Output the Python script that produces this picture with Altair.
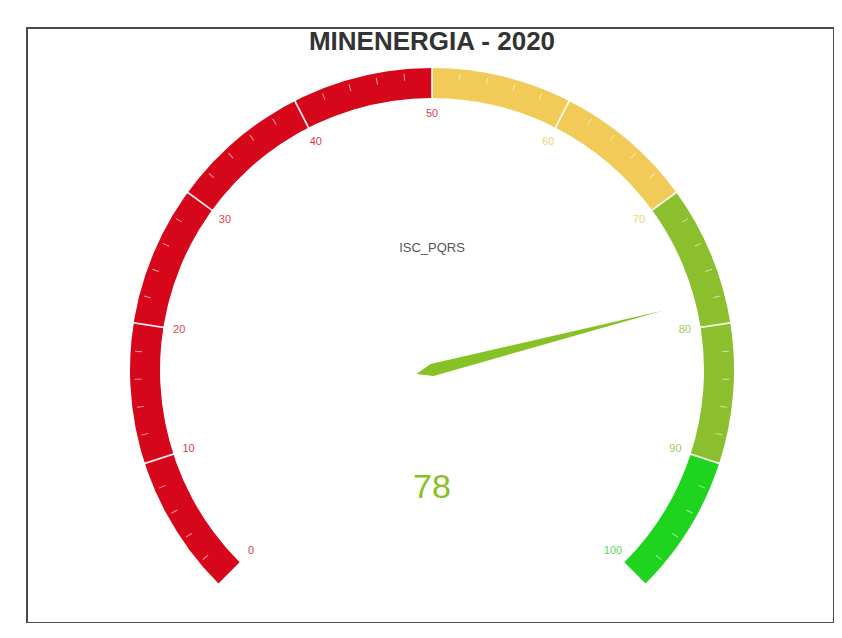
import altair as alt
import pandas as pd

# ---- data ----
title_text = "MINENERGIA - 2020"
series_name = "ISC_PQRS"
gauge_value = [78]
band_start = [0, 50, 70, 90]
band_end = [50, 70, 90, 100]
band_colors = ["#d6061b", "#f2ca57", "#8bbf2e", "#1fd41f"]
label_values = [0, 10, 20, 30, 40, 50, 60, 70, 80, 90, 100]
label_text = ["0", "10", "20", "30", "40", "50", "60", "70", "80", "90", "100"]
label_colors = ["#d6061b", "#d6061b", "#d6061b", "#d6061b", "#d6061b", "#d6061b",
                "#f2ca57", "#f2ca57", "#8bbf2e", "#8bbf2e", "#1fd41f"]
split_values = [10, 20, 30, 40, 50, 60, 70, 80, 90]
minor_values = [2, 4, 6, 8, 12, 14, 16, 18, 22, 24, 26, 28, 32, 34, 36, 38,
                42, 44, 46, 48, 52, 54, 56, 58, 62, 64, 66, 68, 72, 74, 76, 78,
                82, 84, 86, 88, 92, 94, 96, 98]
pointer_color = "#86c226"

# ---- layout ----
W, H = 807, 595
CX, CY = 405, 342
R_OUT, R_IN, R_LABEL, R_NEEDLE = 302, 272, 256, 239

theta_scale = alt.Scale(domain=[0, 100], range=[-2.35619449, 2.35619449])
angle_scale = alt.Scale(domain=[0, 100], range=[-135, 135])

bands_df = pd.DataFrame({"start": band_start, "end": band_end, "color": band_colors})
labels_df = pd.DataFrame({"v": label_values, "t": label_text, "c": label_colors})
split_df = pd.DataFrame({"v": split_values})
minor_df = pd.DataFrame({"v": minor_values})
value_df = pd.DataFrame({"v": gauge_value, "t": [str(v) for v in gauge_value]})
title_df = pd.DataFrame({"t": [title_text]})
name_df = pd.DataFrame({"t": [series_name]})

pos = dict(x=alt.value(CX), y=alt.value(CY))

bands = alt.Chart(bands_df).mark_arc().encode(
    theta=alt.Theta("start:Q", scale=theta_scale, stack=None),
    theta2="end:Q",
    radius=alt.value(R_OUT),
    radius2=alt.value(R_IN),
    color=alt.Color("color:N", scale=None),
    **pos,
)

splits = alt.Chart(split_df).mark_point(
    shape="M 0 -1.005 L 0 -0.895", filled=False, stroke="white",
    strokeWidth=1.8, opacity=0.9,
).encode(
    angle=alt.Angle("v:Q", scale=angle_scale),
    size=alt.value((2 * R_OUT) ** 2),
    **pos,
)

minors = alt.Chart(minor_df).mark_point(
    shape="M 0 -0.985 L 0 -0.962", filled=False, stroke="white",
    strokeWidth=1, opacity=0.6,
).encode(
    angle=alt.Angle("v:Q", scale=angle_scale),
    size=alt.value((2 * R_OUT) ** 2),
    **pos,
)

labels = alt.Chart(labels_df).mark_text(
    fontSize=11, font="Liberation Sans", opacity=0.8,
    align="center", baseline="middle",
).encode(
    theta=alt.Theta("v:Q", scale=theta_scale, stack=None),
    radius=alt.value(R_LABEL),
    text="t:N",
    color=alt.Color("c:N", scale=None),
    **pos,
)

needle = alt.Chart(value_df).mark_point(
    shape="M 0 -1 L 0.026 0 L 0 0.067 L -0.026 0 Z",
    filled=True, opacity=1, strokeWidth=0, color=pointer_color,
).encode(
    angle=alt.Angle("v:Q", scale=angle_scale),
    size=alt.value((2 * R_NEEDLE) ** 2),
    **pos,
)

value_text = alt.Chart(value_df).mark_text(
    fontSize=34, font="Liberation Sans", color=pointer_color,
    align="center", baseline="middle",
).encode(text="t:N", x=alt.value(CX), y=alt.value(CY + 118))

name_text = alt.Chart(name_df).mark_text(
    fontSize=13, font="Liberation Sans", color="#555555",
    align="center", baseline="middle",
).encode(text="t:N", x=alt.value(CX), y=alt.value(CY - 122))

title = alt.Chart(title_df).mark_text(
    fontSize=26, font="Liberation Sans", fontWeight="bold", color="#333333",
    align="center", baseline="alphabetic",
).encode(text="t:N", x=alt.value(CX), y=alt.value(22))

chart = alt.layer(
    bands, splits, minors, labels, needle, value_text, name_text, title
).properties(
    width=W, height=H,
    padding={"left": 19, "top": 20, "right": 0, "bottom": 0},
    autosize=alt.AutoSizeParams(type="none"),
    background="white",
).configure_view(
    stroke="#4a4a4a", strokeWidth=2,
)

chart.save("out.html", embed_options={"renderer": "svg", "actions": False})
